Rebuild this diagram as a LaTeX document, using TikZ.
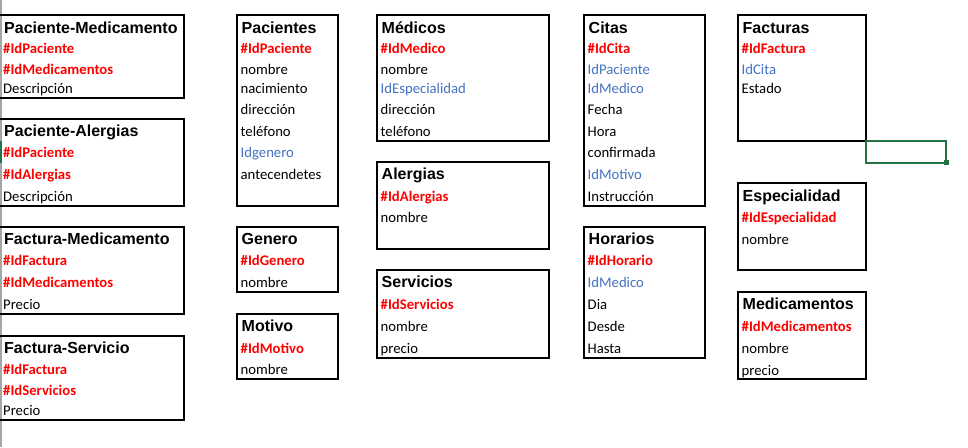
\documentclass[tikz,border=0pt]{standalone}
\usepackage{fontspec}
\newfontfamily\fuentetitulo{Liberation Sans}
\newfontfamily\fuentecampo{Carlito}
\definecolor{azulexcel}{HTML}{4472C4}
\definecolor{verdeexcel}{HTML}{217346}
\definecolor{grisborde}{HTML}{A6A6A6}
\tikzset{
  tabla/.style={draw, line width=2pt},
  titulo/.style={anchor=base west, inner sep=0pt, yshift=-6pt,
    font=\fuentetitulo\bfseries\fontsize{16}{19}\selectfont},
  clave/.style={anchor=base west, inner sep=0pt, yshift=-5pt, text=red,
    font=\fuentecampo\bfseries\fontsize{14.7}{17}\selectfont},
  ajena/.style={anchor=base west, inner sep=0pt, yshift=-5pt, text=azulexcel,
    font=\fuentecampo\fontsize{14.7}{17}\selectfont},
  campo/.style={anchor=base west, inner sep=0pt, yshift=-5pt,
    font=\fuentecampo\fontsize{14.7}{17}\selectfont},
}
\begin{document}
\begin{tikzpicture}[x=1pt,y=-1pt]
  \useasboundingbox[fill=white] (0,0) rectangle (968,447);
  % borde de la ventana
  \fill[grisborde] (0,0) rectangle (1.5,447);
  \fill[verdeexcel] (0,141) rectangle (1.5,163);

  % Paciente-Medicamento
  \draw[tabla] (-1,15) rectangle (184,98);
  \node[titulo] (pmT) at (4,27) {Paciente-Medicamento};
  \node[clave] (pm1) at (3,48.5) {\#IdPaciente};
  \node[clave] (pm2) at (3,69) {\#IdMedicamentos};
  \node[campo] (pm3) at (3,88.7) {Descripción};

  % Paciente-Alergias
  \draw[tabla] (-1,119) rectangle (184,206);
  \node[titulo] (paT) at (4,130.7) {Paciente-Alergias};
  \node[clave] (pa1) at (3,152.7) {\#IdPaciente};
  \node[clave] (pa2) at (3,174.3) {\#IdAlergias};
  \node[campo] (pa3) at (3,196.7) {Descripción};

  % Factura-Medicamento
  \draw[tabla] (-1,227) rectangle (184,314);
  \node[titulo] (fmT) at (4,238) {Factura-Medicamento};
  \node[clave] (fm1) at (3,260.7) {\#IdFactura};
  \node[clave] (fm2) at (3,282.3) {\#IdMedicamentos};
  \node[campo] (fm3) at (3,304.3) {Precio};

  % Factura-Servicio
  \draw[tabla] (-1,336) rectangle (184,420);
  \node[titulo] (fsT) at (4,347.3) {Factura-Servicio};
  \node[clave] (fs1) at (3,369.7) {\#IdFactura};
  \node[clave] (fs2) at (3,390.7) {\#IdServicios};
  \node[campo] (fs3) at (3,410.7) {Precio};

  % Pacientes
  \draw[tabla] (237,15) rectangle (338,206);
  \node[titulo] (pacT) at (241.5,27) {Pacientes};
  \node[clave] (pac1) at (240.5,48.5) {\#IdPaciente};
  \node[campo] (pac2) at (240.5,69) {nombre};
  \node[campo] (pac3) at (240.5,88.5) {nacimiento};
  \node[campo] (pac4) at (240.5,109.5) {dirección};
  \node[campo] (pac5) at (240.5,131) {teléfono};
  \node[ajena] (pac6) at (240.5,152.5) {Idgenero};
  \node[campo] (pac7) at (240.5,174) {antecendetes};

  % Genero
  \draw[tabla] (237,227) rectangle (338,292);
  \node[titulo] (genT) at (241.5,238) {Genero};
  \node[clave] (gen1) at (240.5,260.7) {\#IdGenero};
  \node[campo] (gen2) at (240.5,282.3) {nombre};

  % Motivo
  \draw[tabla] (237,314) rectangle (338,379);
  \node[titulo] (motT) at (241.5,325.3) {Motivo};
  \node[clave] (mot1) at (240.5,348.7) {\#IdMotivo};
  \node[campo] (mot2) at (240.5,369.3) {nombre};

  % Médicos
  \draw[tabla] (377,15) rectangle (549,141);
  \node[titulo] (medT) at (381.5,27) {Médicos};
  \node[clave] (med1) at (380.5,48.5) {\#IdMedico};
  \node[campo] (med2) at (380.5,69) {nombre};
  \node[ajena] (med3) at (380.5,88.5) {IdEspecialidad};
  \node[campo] (med4) at (380.5,109.5) {dirección};
  \node[campo] (med5) at (380.5,131) {teléfono};

  % Alergias
  \draw[tabla] (377,162) rectangle (549,249);
  \node[titulo] (alerT) at (381.5,173.3) {Alergias};
  \node[clave] (aler1) at (380.5,196.7) {\#IdAlergias};
  \node[campo] (aler2) at (380.5,217) {nombre};

  % Servicios
  \draw[tabla] (377,270) rectangle (549,358);
  \node[titulo] (servT) at (381.5,281.7) {Servicios};
  \node[clave] (serv1) at (380.5,304.3) {\#IdServicios};
  \node[campo] (serv2) at (380.5,326.7) {nombre};
  \node[campo] (serv3) at (380.5,348.7) {precio};

  % Citas
  \draw[tabla] (584,15) rectangle (705,206);
  \node[titulo] (citT) at (588.5,27) {Citas};
  \node[clave] (cit1) at (587.5,48.5) {\#IdCita};
  \node[ajena] (cit2) at (587.5,69) {IdPaciente};
  \node[ajena] (cit3) at (587.5,88.5) {IdMedico};
  \node[campo] (cit4) at (587.5,109.5) {Fecha};
  \node[campo] (cit5) at (587.5,131) {Hora};
  \node[campo] (cit6) at (587.5,152) {confirmada};
  \node[ajena] (cit7) at (587.5,174.3) {IdMotivo};
  \node[campo] (cit8) at (587.5,196) {Instrucción};

  % Horarios
  \draw[tabla] (584,227) rectangle (705,358);
  \node[titulo] (horT) at (588.5,238) {Horarios};
  \node[clave] (hor1) at (587.5,260.7) {\#IdHorario};
  \node[ajena] (hor2) at (587.5,282.3) {IdMedico};
  \node[campo] (hor3) at (587.5,304.3) {Dia};
  \node[campo] (hor4) at (587.5,326.7) {Desde};
  \node[campo] (hor5) at (587.5,348.7) {Hasta};

  % Facturas
  \draw[tabla] (738,15) rectangle (866,141);
  \node[titulo] (facT) at (742.5,27) {Facturas};
  \node[clave] (fac1) at (741.5,48.5) {\#IdFactura};
  \node[ajena] (fac2) at (741.5,69) {IdCita};
  \node[campo] (fac3) at (741.5,88.5) {Estado};

  % Especialidad
  \draw[tabla] (738,183) rectangle (866,270);
  \node[titulo] (espT) at (742.5,195) {Especialidad};
  \node[clave] (esp1) at (741.5,217) {\#IdEspecialidad};
  \node[campo] (esp2) at (741.5,239.3) {nombre};

  % Medicamentos
  \draw[tabla] (738,292) rectangle (866,379);
  \node[titulo] (mdcT) at (742.5,303.3) {Medicamentos};
  \node[clave] (mdc1) at (741.5,326.7) {\#IdMedicamentos};
  \node[campo] (mdc2) at (741.5,348.7) {nombre};
  \node[campo] (mdc3) at (741.5,370) {precio};

  % celda seleccionada
  \draw[verdeexcel, line width=2pt] (866,141) rectangle (946,163);
  \fill[verdeexcel] (944,160) rectangle (949,165);
\end{tikzpicture}
\end{document}
